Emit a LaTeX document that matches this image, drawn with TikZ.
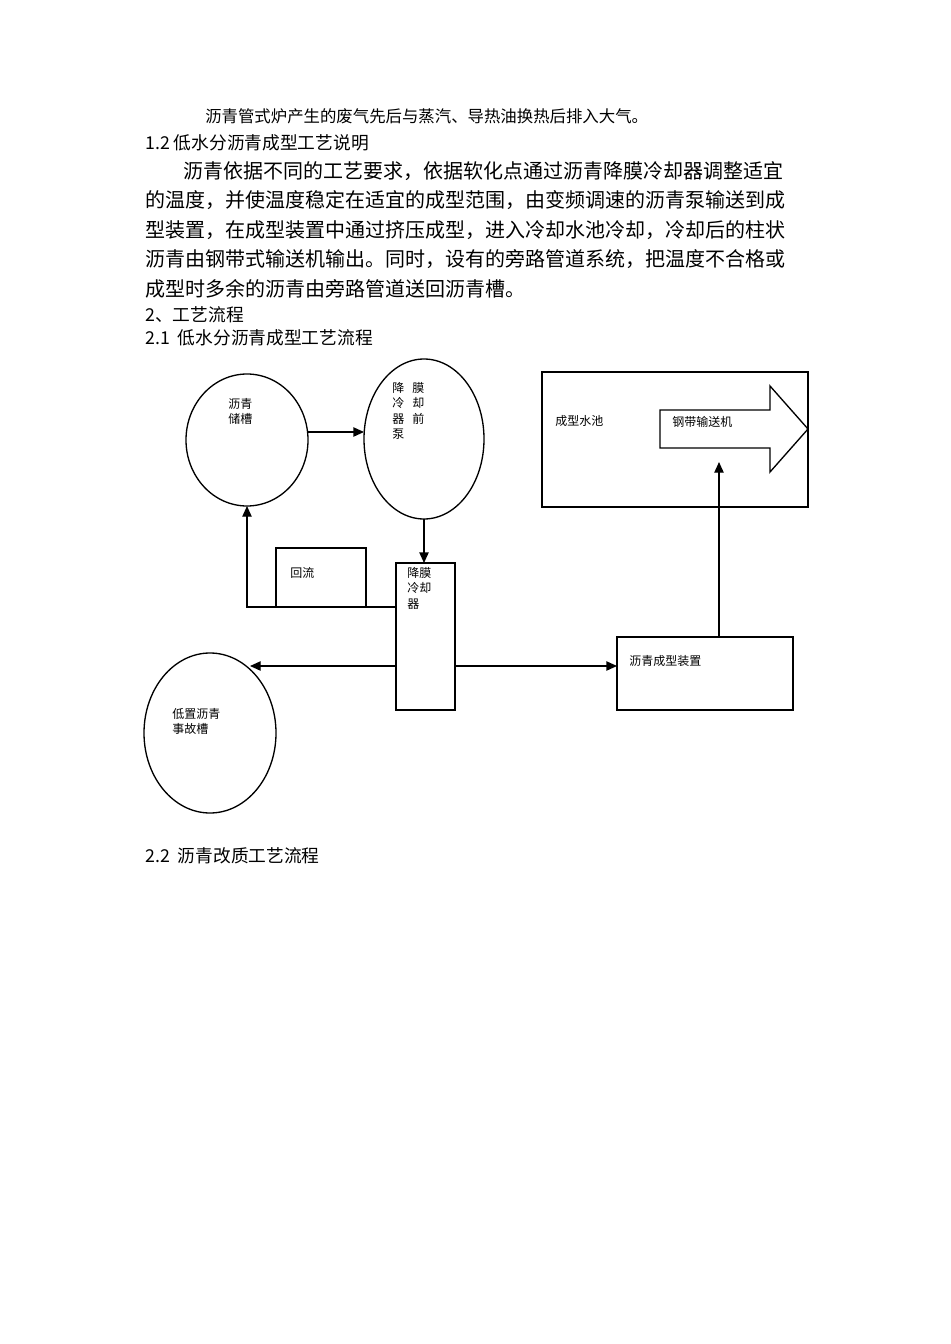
\documentclass[tikz,border=0pt]{standalone}
\usepackage{fontspec}
\newfontfamily\cjk{Noto Sans CJK SC}
\usetikzlibrary{arrows.meta}
\begin{document}
\begin{tikzpicture}[x=0.75pt,y=-0.75pt,
  ln/.style={line width=1pt},
  arr/.style={ln,-{Triangle[length=8pt,width=7pt]}},
  lbl/.style={anchor=north west,inner sep=0pt,font=\cjk\fontsize{9pt}{11.5pt}\selectfont,align=left},
  body/.style={anchor=west,inner sep=0pt,font=\cjk\fontsize{15pt}{17pt}\selectfont},
  head/.style={anchor=west,inner sep=0pt,font=\cjk\fontsize{13.3pt}{15pt}\selectfont}]
\useasboundingbox[fill=white] (0,0) rectangle (950,1344);
\node[anchor=west,inner sep=0pt,font=\cjk\fontsize{12.3pt}{14pt}\selectfont] (t0) at (205,116) {沥青管式炉产生的废气先后与蒸汽、导热油换热后排入大气。};
\node[head] (t1) at (145,143) {1.2 低水分沥青成型工艺说明};
\node[body] (p1) at (183,171) {沥青依据不同的工艺要求，依据软化点通过沥青降膜冷却器调整适宜};
\node[body] (p2) at (145,200) {的温度，并使温度稳定在适宜的成型范围，由变频调速的沥青泵输送到成};
\node[body] (p3) at (145,230) {型装置，在成型装置中通过挤压成型，进入冷却水池冷却，冷却后的柱状};
\node[body] (p4) at (145,259) {沥青由钢带式输送机输出。同时，设有的旁路管道系统，把温度不合格或};
\node[body] (p5) at (145,289) {成型时多余的沥青由旁路管道送回沥青槽。};
\node[head] (t2) at (145,315) {2、工艺流程};
\node[head] (t3) at (145,338) {2.1\ \ 低水分沥青成型工艺流程};
\node[head] (t4) at (145,856) {2.2\ \ 沥青改质工艺流程};
% diagram
\draw[ln] (247,440) ellipse [x radius=61,y radius=66];
\node[lbl] (e1t) at (228,398) {沥青\\储槽};
\draw[ln] (424,439) ellipse [x radius=60,y radius=80];
\node[lbl] (e2a) at (392,382) {降\\冷\\器\\泵};
\node[lbl] (e2b) at (412,382) {膜\\却\\前};
\draw[ln] (210,733) ellipse [x radius=66,y radius=80];
\node[lbl] (e3t) at (172,708) {低置沥青\\事故槽};
\draw[ln] (396,563) rectangle (455,710);
\node[lbl] (ct) at (407,567) {降膜\\冷却\\器};
\draw[ln] (276,548) rectangle (366,607);
\node[lbl] (ht) at (290,567) {回流};
\draw[ln] (617,637) rectangle (793,710);
\node[lbl] (ft) at (629,655) {沥青成型装置};
\draw[ln] (542,372) rectangle (808,507);
\node[lbl] (pt) at (555,415) {成型水池};
\draw[ln] (660,410) -- (770,410) -- (770,386) -- (808,429) -- (770,472) -- (770,448) -- (660,448) -- cycle;
\node[lbl] (bt) at (672,416) {钢带输送机};
\coordinate (a1) at (308,432); \coordinate (b1) at (364,432);
\draw[arr] (a1) -- (b1);
\coordinate (a2) at (424,519); \coordinate (b2) at (424,563);
\draw[arr] (a2) -- (b2);
\coordinate (a3) at (396,607); \coordinate (m3) at (247,607); \coordinate (b3) at (247,506);
\draw[arr] (a3) -- (m3) -- (b3);
\coordinate (a4) at (396,666); \coordinate (b4) at (250,666);
\draw[arr] (a4) -- (b4);
\coordinate (a5) at (455,666); \coordinate (b5) at (617,666);
\draw[arr] (a5) -- (b5);
\coordinate (a6) at (719,637); \coordinate (b6) at (719,462);
\draw[arr] (a6) -- (b6);
\end{tikzpicture}
\end{document}
